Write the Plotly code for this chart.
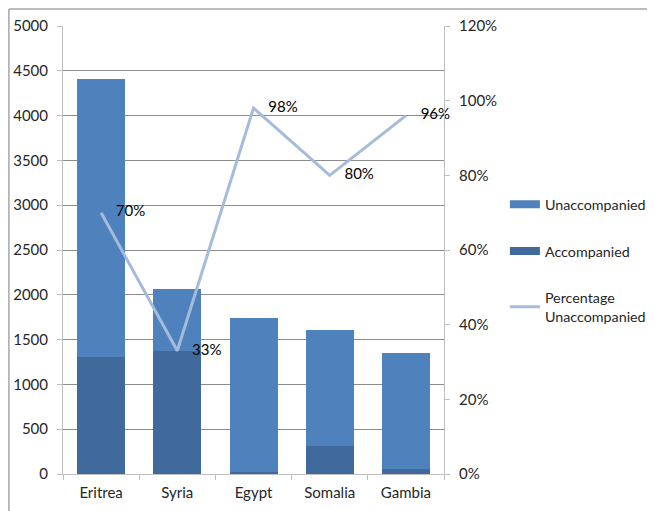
import plotly.graph_objects as go

categories = ["Eritrea", "Syria", "Egypt", "Somalia", "Gambia"]
accompanied = [1305, 1372, 24, 312, 56]
unaccompanied = [3100, 696, 1713, 1291, 1291]
pct_unaccompanied = [0.70, 0.33, 0.98, 0.80, 0.96]
left_ticks = [0, 500, 1000, 1500, 2000, 2500, 3000, 3500, 4000, 4500, 5000]
right_ticks = [0, 0.2, 0.4, 0.6, 0.8, 1.0, 1.2]

FONT = "Lato"
GRID = "#8C8C8C"
AXIS = "#BFBFBF"
TXT = "#262626"
C_UNACC = "#4F81BD"
C_ACC = "#3F6A9B"
C_LINE = "#A5BBDB"

fig = go.Figure()
fig.add_trace(go.Bar(
    x=categories, y=accompanied, name="Accompanied",
    marker=dict(color=C_ACC, line=dict(width=0)),
    showlegend=False,
))
fig.add_trace(go.Bar(
    x=categories, y=unaccompanied, name="Unaccompanied",
    marker=dict(color=C_UNACC, line=dict(width=0)),
    showlegend=False,
))
fig.add_trace(go.Scatter(
    x=categories, y=pct_unaccompanied, name="Percentage<br>Unaccompanied",
    yaxis="y2", mode="lines+markers+text", cliponaxis=False,
    line=dict(color=C_LINE, width=3),
    marker=dict(size=22, color="rgba(0,0,0,0)"),
    texttemplate="%{y:.0%}", textposition="middle right",
    textfont=dict(family=FONT, size=15, color="#000000"),
    showlegend=False, hoverinfo="skip",
))
# legend entries (wide rectangle symbols as in the reference)
fig.add_trace(go.Scatter(x=[None], y=[None], mode="lines", name="Unaccompanied",
                         line=dict(color=C_UNACC, width=8), legendrank=1, legendgroup="a"))
fig.add_trace(go.Scatter(x=[None], y=[None], mode="lines", name="Accompanied",
                         line=dict(color=C_ACC, width=8), legendrank=2, legendgroup="b"))
fig.add_trace(go.Scatter(x=[None], y=[None], mode="lines", name="Percentage<br>Unaccompanied",
                         line=dict(color=C_LINE, width=3), legendrank=3, legendgroup="c"))

fig.update_layout(
    width=647, height=503,
    margin=dict(l=55, r=211, t=18, b=37, autoexpand=False),
    paper_bgcolor="white", plot_bgcolor="white",
    font=dict(family=FONT, size=15, color=TXT),
    barmode="stack", bargap=0.37,
    showlegend=True,
    legend=dict(
        xref="container", yref="container",
        x=0.768, y=0.641, xanchor="left", yanchor="top",
        traceorder="grouped", tracegroupgap=25,
        font=dict(family=FONT, size=14.3, color=TXT),
        bgcolor="rgba(0,0,0,0)",
    ),
    xaxis=dict(
        automargin=False,
        showline=True, linecolor=AXIS, linewidth=1,
        ticks="outside", tickson="boundaries", ticklen=5, tickcolor=AXIS,
        showgrid=False, tickfont=dict(family=FONT, size=15, color=TXT),
        ticklabelstandoff=5,
    ),
    yaxis=dict(
        automargin=False,
        range=[0, 5000], tickvals=left_ticks,
        showline=True, linecolor=AXIS, linewidth=1,
        ticks="outside", ticklen=5, tickcolor=AXIS,
        showgrid=True, gridcolor=GRID, gridwidth=1, zeroline=False,
        tickfont=dict(family=FONT, size=15, color=TXT),
        ticklabelstandoff=6,
    ),
    yaxis2=dict(
        automargin=False,
        range=[0, 1.2], tickvals=right_ticks, tickformat=".0%",
        overlaying="y", side="right",
        showline=True, linecolor=AXIS, linewidth=1,
        ticks="outside", ticklen=5, tickcolor=AXIS,
        showgrid=False, zeroline=False,
        tickfont=dict(family=FONT, size=15, color=TXT),
        ticklabelstandoff=6,
    ),
    shapes=[
        dict(type="line", xref="paper", yref="paper", x0=-0.142, x1=-0.142, y0=1.038, y1=-0.2,
             line=dict(color="#A6A6A6", width=1.5)),
        dict(type="line", xref="paper", yref="paper", x0=-0.142, x1=1.7, y0=1.038, y1=1.038,
             line=dict(color="#A6A6A6", width=1.5)),
    ],
)

fig.write_html("out.html")
